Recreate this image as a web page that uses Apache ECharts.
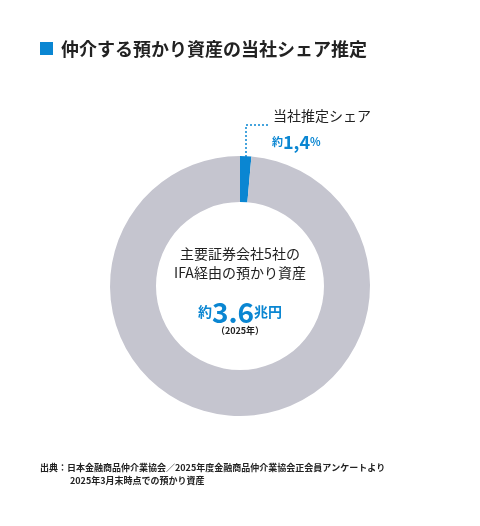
<!DOCTYPE html>
<html><head><meta charset="utf-8">
<script src="https://cdn.jsdelivr.net/npm/echarts@6/dist/echarts.min.js"></script>
<style>html,body{margin:0;padding:0;background:#fff}#c{width:480px;height:526px}</style>
</head><body><div id="c"></div>
<script>
const categories = ['当社推定シェア', 'その他'];
const shares = [1.4, 98.6];
const totalLabel = '3.6';
const yearLabel = '（2025年）';
const F = '"Noto Sans CJK JP", sans-serif';
const blue = '#0a86d2', gray = '#c5c5cf', dark = '#222';
const chart = echarts.init(document.getElementById('c'));
chart.setOption({
  animation: false,
  series: [{
    type: 'pie', center: [240, 286], radius: [84, 130], startAngle: 90, clockwise: true,
    label: {show: false}, labelLine: {show: false}, silent: true,
    data: categories.map((c, i) => ({name: c, value: shares[i], itemStyle: {color: i === 0 ? blue : gray}}))
  }],
  graphic: [
    {type: 'rect', shape: {x: 40, y: 42, width: 13, height: 13}, style: {fill: blue}},
    {type: 'text', x: 61, y: 49, style: {text: '仲介する預かり資産の当社シェア推定', font: 'bold 18px ' + F, fill: dark, textVerticalAlign: 'middle'}},
    {type: 'polyline', shape: {points: [[246, 157], [246, 125], [268, 125]]}, style: {stroke: blue, lineWidth: 1.5, lineDash: [2, 2], fill: null}},
    {type: 'text', x: 273, y: 116, style: {text: categories[0], font: '14px ' + F, fill: dark, textVerticalAlign: 'middle'}},
    {type: 'text', x: 272, y: 142, style: {rich: {
      a: {font: 'bold 11px ' + F, fill: blue},
      b: {font: 'bold 18px ' + F, fill: blue},
      c: {font: 'bold 11px ' + F, fill: blue}},
      text: '{a|約}{b|' + String(shares[0]).replace('.', ',') + '}{c|%}', textVerticalAlign: 'middle'}},
    {type: 'text', x: 240, y: 263, style: {text: '主要証券会社5社の\nIFA経由の預かり資産', font: '14px ' + F, lineHeight: 19, fill: dark, textAlign: 'center', textVerticalAlign: 'middle'}},
    {type: 'text', x: 240, y: 312, style: {rich: {
      a: {font: 'bold 14px ' + F, fill: blue},
      b: {font: 'bold 28px ' + F, fill: blue}},
      text: '{a|約}{b|' + totalLabel + '}{a|兆円}', textAlign: 'center', textVerticalAlign: 'middle'}},
    {type: 'text', x: 240, y: 331, style: {text: yearLabel, font: 'bold 9px ' + F, fill: dark, textAlign: 'center', textVerticalAlign: 'middle'}},
    {type: 'text', x: 40, y: 468, style: {text: '出典：日本金融商品仲介業協会／2025年度金融商品仲介業協会正会員アンケートより', font: 'bold 9px ' + F, fill: dark, textVerticalAlign: 'middle'}},
    {type: 'text', x: 70, y: 481, style: {text: '2025年3月末時点での預かり資産', font: 'bold 9px ' + F, fill: dark, textVerticalAlign: 'middle'}}
  ]
});
</script></body></html>
